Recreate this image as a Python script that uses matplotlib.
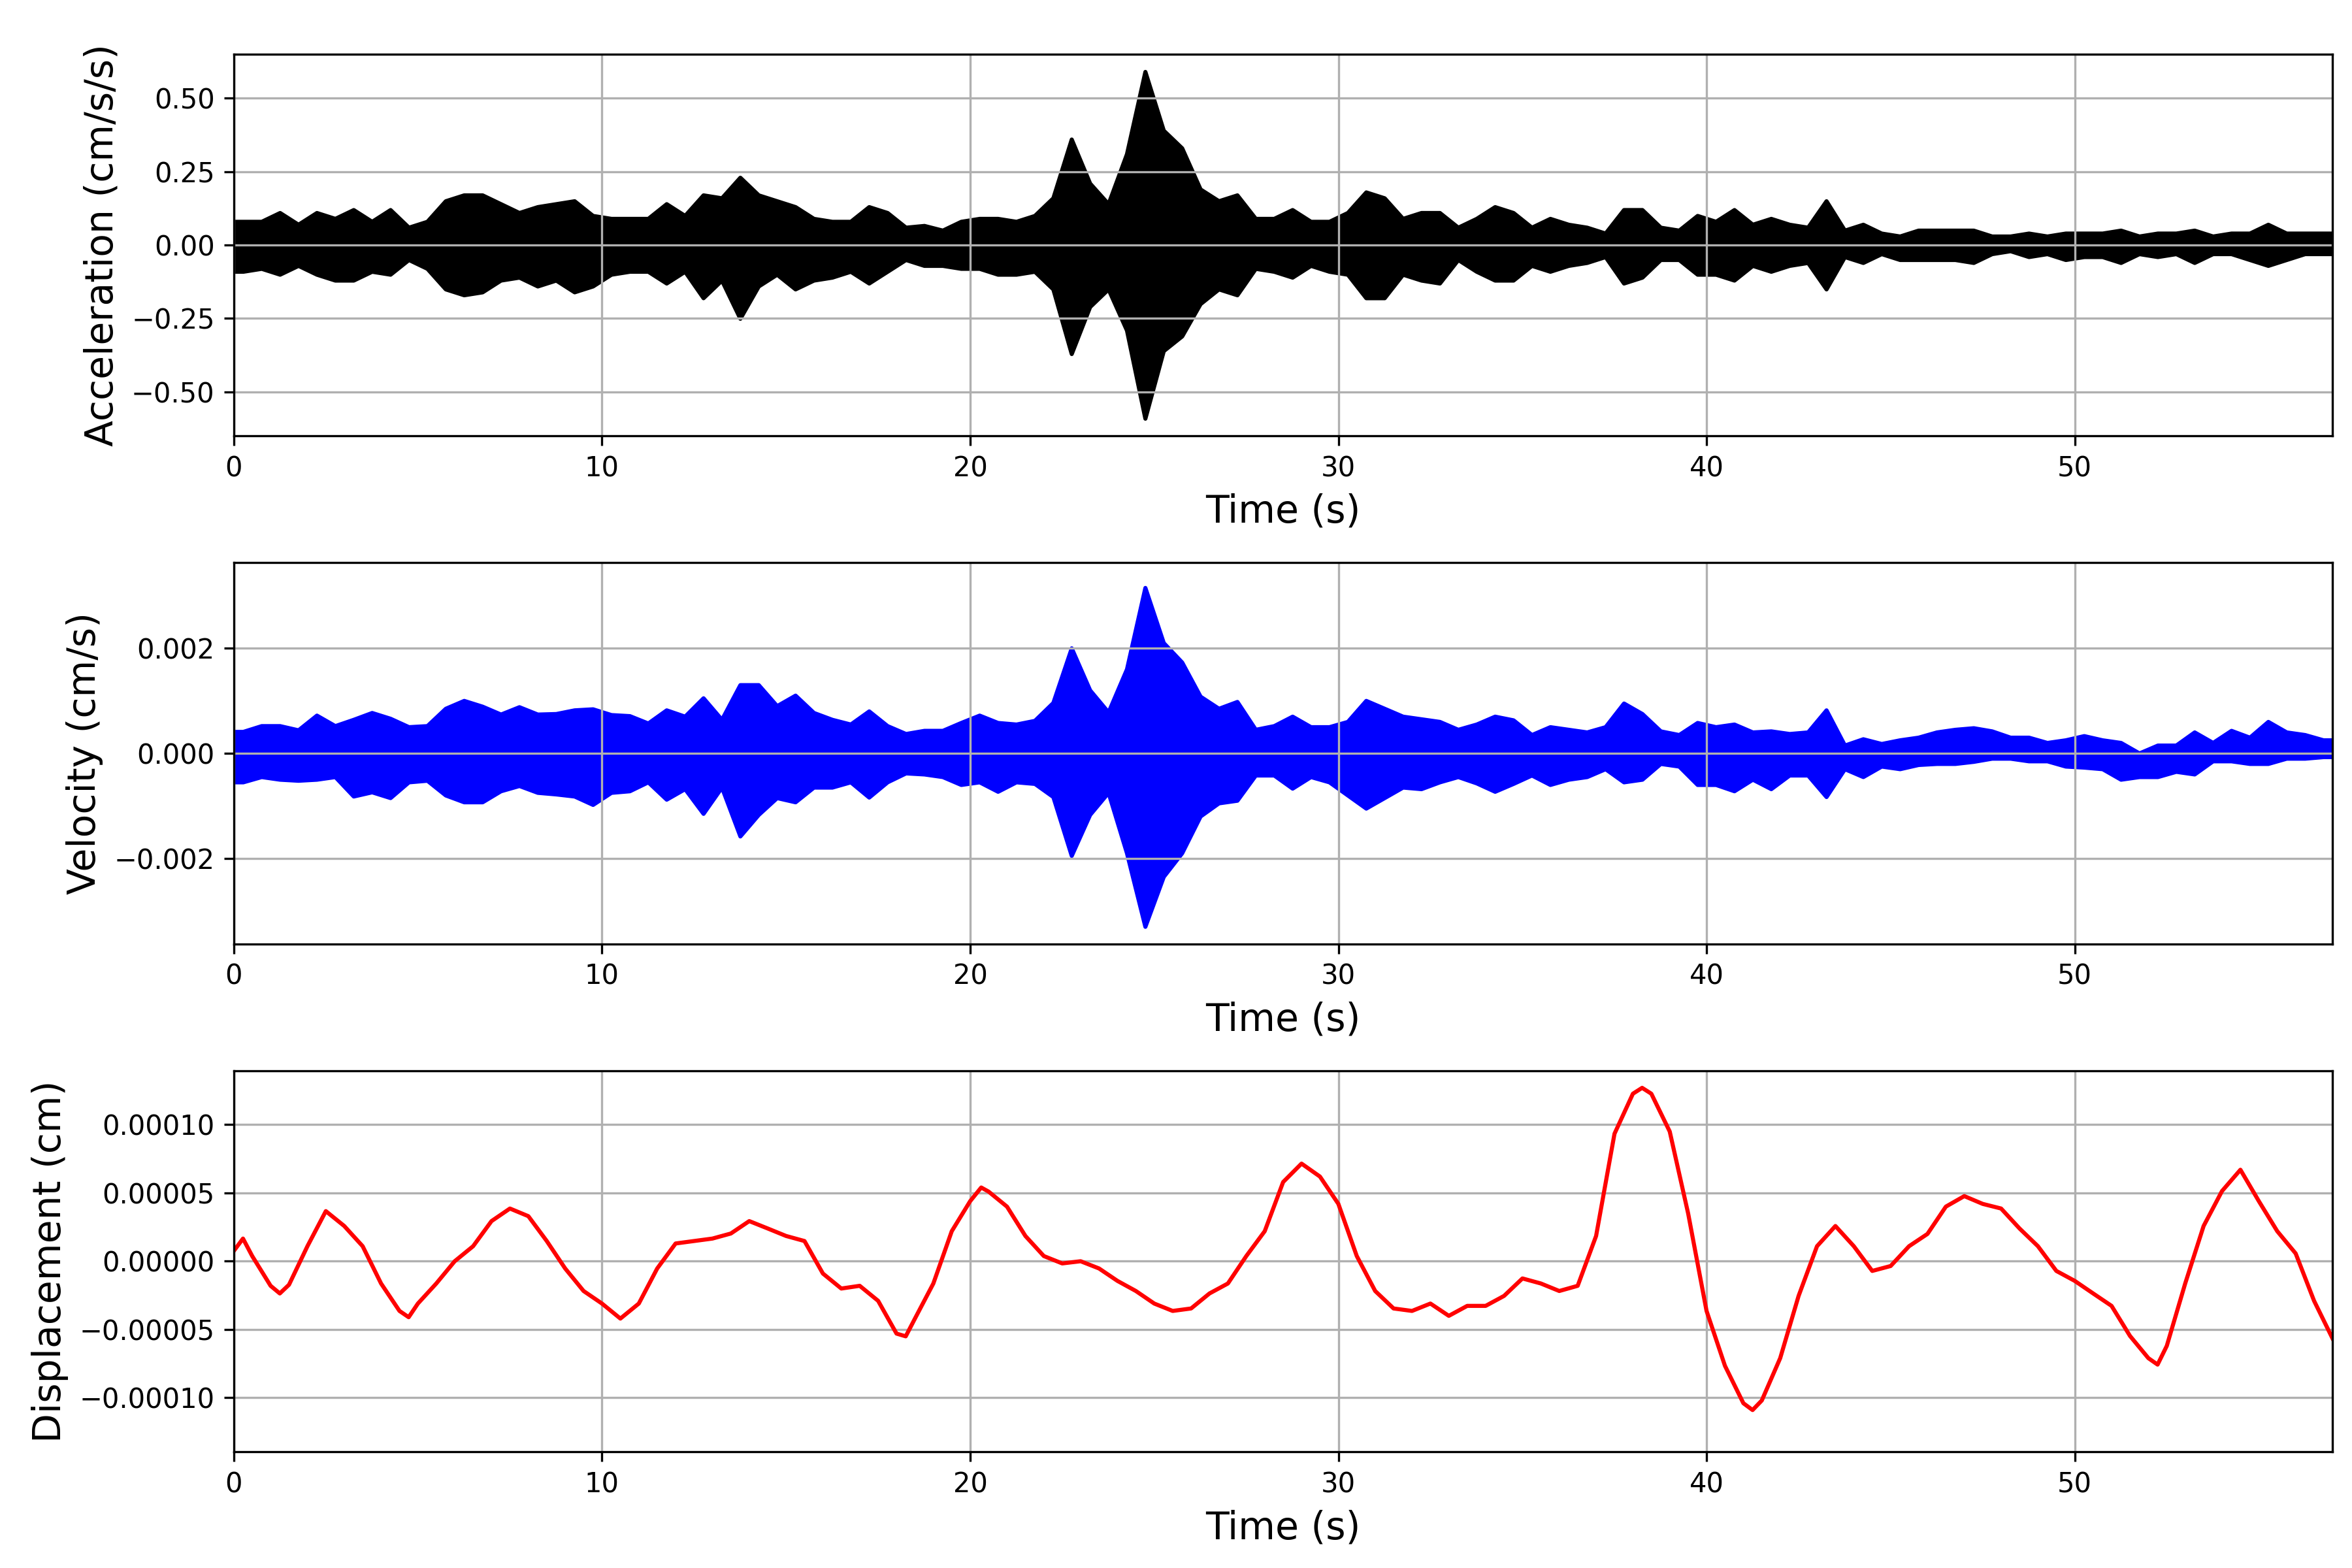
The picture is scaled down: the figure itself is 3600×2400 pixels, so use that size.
import numpy as np
import matplotlib
matplotlib.use("Agg")
import matplotlib.pyplot as plt
from matplotlib.ticker import MaxNLocator

# envelope of the records in 0.5 s windows (0 - 57 s)
win_t = np.arange(0.25, 57, 0.5)

acc_hi = [0.08, 0.08, 0.11, 0.07, 0.11, 0.09, 0.12, 0.08, 0.12, 0.06,
          0.08, 0.15, 0.17, 0.17, 0.14, 0.11, 0.13, 0.14, 0.15, 0.10,
          0.09, 0.09, 0.09, 0.14, 0.10, 0.17, 0.16, 0.23, 0.17, 0.15,
          0.13, 0.09, 0.08, 0.08, 0.13, 0.11, 0.06, 0.066, 0.05, 0.08,
          0.09, 0.09, 0.08, 0.10, 0.16, 0.36, 0.21, 0.14, 0.31, 0.59,
          0.39, 0.33, 0.19, 0.15, 0.17, 0.09, 0.09, 0.12, 0.08, 0.08,
          0.11, 0.18, 0.16, 0.09, 0.11, 0.11, 0.06, 0.09, 0.13, 0.11,
          0.06, 0.09, 0.07, 0.06, 0.04, 0.12, 0.12, 0.06, 0.05, 0.10,
          0.08, 0.12, 0.07, 0.09, 0.07, 0.06, 0.15, 0.05, 0.07, 0.04,
          0.03, 0.05, 0.05, 0.05, 0.05, 0.03, 0.03, 0.04, 0.03, 0.04,
          0.04, 0.04, 0.05, 0.03, 0.04, 0.04, 0.05, 0.03, 0.04, 0.04,
          0.07, 0.04, 0.04, 0.04]
acc_lo = [-0.09, -0.08, -0.10, -0.07, -0.10, -0.12, -0.12, -0.09, -0.10, -0.05,
          -0.08, -0.15, -0.17, -0.16, -0.12, -0.11, -0.14, -0.12, -0.16, -0.14,
          -0.10, -0.09, -0.09, -0.13, -0.09, -0.18, -0.12, -0.25, -0.14, -0.10,
          -0.15, -0.12, -0.11, -0.09, -0.13, -0.09, -0.05, -0.07, -0.07, -0.08,
          -0.08, -0.10, -0.10, -0.09, -0.15, -0.37, -0.21, -0.15, -0.29, -0.59,
          -0.36, -0.31, -0.20, -0.15, -0.17, -0.08, -0.09, -0.11, -0.07, -0.09,
          -0.10, -0.18, -0.18, -0.10, -0.12, -0.13, -0.05, -0.09, -0.12, -0.12,
          -0.07, -0.09, -0.07, -0.06, -0.04, -0.13, -0.11, -0.05, -0.05, -0.10,
          -0.10, -0.12, -0.07, -0.09, -0.07, -0.06, -0.15, -0.04, -0.06, -0.03,
          -0.05, -0.05, -0.05, -0.05, -0.06, -0.03, -0.02, -0.04, -0.03, -0.05,
          -0.04, -0.04, -0.06, -0.03, -0.04, -0.03, -0.06, -0.03, -0.03, -0.05,
          -0.07, -0.05, -0.03, -0.03]

# velocity in units of 1e-3 cm/s
vel_hi = [0.41, 0.52, 0.52, 0.44, 0.72, 0.52, 0.64, 0.77, 0.66, 0.50,
          0.52, 0.85, 1.00, 0.89, 0.74, 0.88, 0.74, 0.75, 0.82, 0.84,
          0.73, 0.71, 0.57, 0.82, 0.70, 1.05, 0.64, 1.30, 1.30, 0.90,
          1.10, 0.77, 0.64, 0.55, 0.80, 0.52, 0.37, 0.43, 0.43, 0.58,
          0.72, 0.58, 0.55, 0.62, 0.96, 2.00, 1.20, 0.78, 1.60, 3.15,
          2.10, 1.73, 1.08, 0.85, 0.98, 0.45, 0.52, 0.70, 0.50, 0.50,
          0.60, 1.00, 0.85, 0.70, 0.65, 0.60, 0.45, 0.55, 0.70, 0.63,
          0.35, 0.50, 0.45, 0.40, 0.50, 0.95, 0.75, 0.42, 0.35, 0.58,
          0.50, 0.55, 0.40, 0.42, 0.37, 0.40, 0.82, 0.15, 0.27, 0.18,
          0.25, 0.30, 0.40, 0.45, 0.48, 0.42, 0.30, 0.30, 0.20, 0.25,
          0.33, 0.25, 0.20, 0.00, 0.15, 0.15, 0.40, 0.20, 0.43, 0.30,
          0.60, 0.40, 0.35, 0.25]
vel_lo = [-0.55, -0.45, -0.50, -0.52, -0.50, -0.45, -0.82, -0.74, -0.85, -0.55,
          -0.52, -0.80, -0.93, -0.93, -0.72, -0.62, -0.75, -0.78, -0.82, -0.98,
          -0.75, -0.72, -0.55, -0.88, -0.68, -1.15, -0.65, -1.58, -1.17, -0.85,
          -0.93, -0.65, -0.65, -0.55, -0.84, -0.55, -0.38, -0.40, -0.45, -0.60,
          -0.55, -0.73, -0.55, -0.58, -0.83, -1.95, -1.17, -0.75, -1.90, -3.30,
          -2.35, -1.90, -1.20, -0.95, -0.90, -0.42, -0.42, -0.67, -0.45, -0.55,
          -0.80, -1.05, -0.85, -0.65, -0.68, -0.55, -0.45, -0.57, -0.73, -0.58,
          -0.42, -0.60, -0.50, -0.45, -0.30, -0.55, -0.50, -0.20, -0.25, -0.60,
          -0.60, -0.72, -0.50, -0.68, -0.42, -0.42, -0.83, -0.30, -0.45, -0.25,
          -0.30, -0.22, -0.20, -0.20, -0.16, -0.10, -0.10, -0.15, -0.15, -0.25,
          -0.27, -0.30, -0.50, -0.45, -0.45, -0.35, -0.40, -0.15, -0.15, -0.20,
          -0.20, -0.10, -0.10, -0.07]

# displacement in units of 1e-5 cm
disp_t = [0, 0.25, 0.5, 1.0, 1.25, 1.5, 2.0, 2.5, 3.0, 3.5, 4.0, 4.5, 4.75, 5.0,
          5.5, 6.0, 6.5, 7.0, 7.5, 8.0, 8.5, 9.0, 9.5, 10.0, 10.5, 11.0, 11.5,
          12.0, 12.5, 13.0, 13.5, 14.0, 14.5, 15.0, 15.5, 16.0, 16.5, 17.0, 17.5,
          18.0, 18.25, 18.5, 19.0, 19.5, 20.0, 20.3, 20.5, 21.0, 21.5, 22.0, 22.5,
          23.0, 23.5, 24.0, 24.5, 25.0, 25.5, 26.0, 26.5, 27.0, 27.5, 28.0, 28.5,
          29.0, 29.5, 30.0, 30.5, 31.0, 31.5, 32.0, 32.5, 33.0, 33.5, 34.0, 34.5,
          35.0, 35.5, 36.0, 36.5, 37.0, 37.5, 38.0, 38.25, 38.5, 39.0, 39.5, 40.0,
          40.5, 41.0, 41.25, 41.5, 42.0, 42.5, 43.0, 43.5, 44.0, 44.5, 45.0, 45.5,
          46.0, 46.5, 47.0, 47.5, 48.0, 48.5, 49.0, 49.5, 50.0, 50.5, 51.0, 51.5,
          52.0, 52.25, 52.5, 53.0, 53.5, 54.0, 54.5, 55.0, 55.5, 56.0, 56.5, 57.0]
disp = [0.75, 1.66, 0.38, -1.8, -2.36, -1.72, 1.1, 3.67, 2.58, 1.1, -1.63, -3.64, -4.1, -3.1,
        -1.63, 0.0, 1.1, 2.94, 3.86, 3.3, 1.48, -0.53, -2.18, -3.1, -4.2, -3.1, -0.53,
        1.3, 1.48, 1.66, 2.03, 2.94, 2.4, 1.85, 1.48, -0.9, -2.0, -1.8, -2.9,
        -5.3, -5.5, -4.2, -1.63, 2.2, 4.4, 5.4, 5.1, 4.0, 1.85, 0.38, -0.16,
        0.0, -0.53, -1.44, -2.18, -3.1, -3.64, -3.46, -2.36, -1.63, 0.38, 2.2, 5.8,
        7.15, 6.2, 4.2, 0.38, -2.18, -3.46, -3.64, -3.1, -4.0, -3.27, -3.27, -2.54,
        -1.26, -1.63, -2.18, -1.8, 1.85, 9.34, 12.27, 12.7, 12.27, 9.5, 3.5, -3.64,
        -7.66, -10.4, -10.9, -10.2, -7.1, -2.54, 1.1, 2.58, 1.1, -0.71, -0.35, 1.1,
        2.0, 4.0, 4.77, 4.2, 3.86, 2.4, 1.1, -0.71, -1.44, -2.36, -3.27, -5.47,
        -7.1, -7.57, -6.2, -1.63, 2.58, 5.14, 6.7, 4.4, 2.2, 0.57, -2.9, -5.65]

acc_hi = np.array(acc_hi)
acc_lo = np.array(acc_lo)
vel_hi = np.array(vel_hi) * 1e-3
vel_lo = np.array(vel_lo) * 1e-3
disp = np.array(disp) * 1e-5

# first/last window envelope also holds at the record ends (0 s and 57 s)
t_env = np.r_[0, win_t, 57]

def ends(a):
    return np.r_[a[0], a, a[-1]]

fig, axs = plt.subplots(3, 1, figsize=(12, 8), dpi=300)
fig.subplots_adjust(left=0.0994, right=0.9917, top=0.9654, bottom=0.074, hspace=0.332)

# acceleration
ax = axs[0]
ax.fill_between(t_env, ends(acc_lo), ends(acc_hi), color='k', linewidth=1.5)
lim = 1.1 * max(acc_hi.max(), -acc_lo.min())
ax.set_ylim(-lim, lim)
ax.set_ylabel('Acceleration (cm/s/s)', fontsize=14)

# velocity
ax = axs[1]
ax.fill_between(t_env, ends(vel_lo), ends(vel_hi), color='b', linewidth=1.5)
lim = 1.1 * max(vel_hi.max(), -vel_lo.min())
ax.set_ylim(-lim, lim)
ax.set_ylabel('Velocity (cm/s)', fontsize=14)

# displacement
ax = axs[2]
ax.plot(disp_t, disp, color='r', linewidth=1.5)
lim = 1.1 * np.abs(disp).max()
ax.set_ylim(-lim, lim)
ax.set_ylabel('Displacement (cm)', fontsize=14)

for ax in axs:
    ax.set_xlim(0, 57)
    ax.yaxis.set_major_locator(MaxNLocator(nbins=6, steps=[1, 2, 2.5, 5, 10]))
    ax.set_xlabel('Time (s)', fontsize=14)
    ax.grid(True)

fig.savefig('out.png', dpi=300)
